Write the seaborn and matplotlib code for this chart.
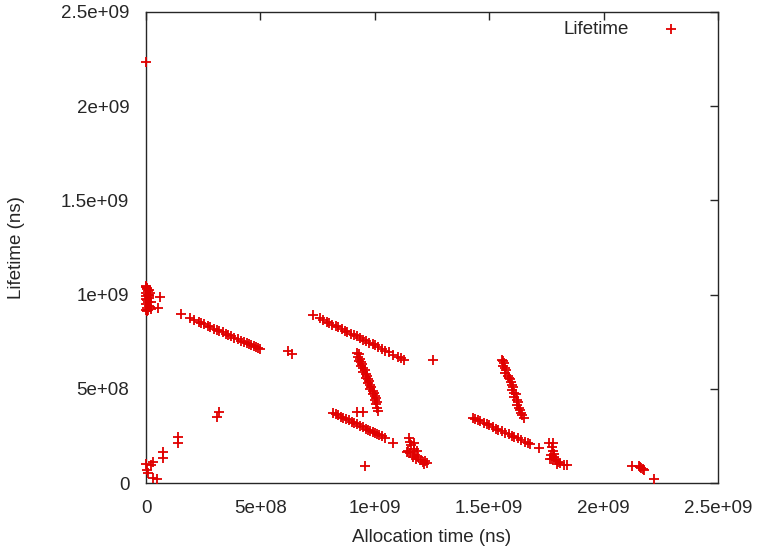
import numpy as np
import pandas as pd
import seaborn as sns
import matplotlib.pyplot as plt
from matplotlib.ticker import FuncFormatter, MultipleLocator

# values, in units of 1e8 ns
UNIT = 1e8

alloc_near_zero = [0.0, 0.05, 0.1, 0.02, 0.08, 0.0, 0.12, 0.05, 0.1, 0.0, 0.15, 0.05, 0.1, 0.2, 0.03, 0.18, 0.2,
                   0.0, 0.61, 0.52, 0.0, 0.15, 0.0, 0.12, 0.18, 0.05, 0.15, 0.0]
life_near_zero = [10.4, 10.3, 10.2, 10.1, 10.0, 9.9, 9.8, 9.7, 9.6, 9.5, 9.4, 9.3, 9.2, 9.25, 10.35, 10.1, 9.6,
                  22.35, 9.87, 9.29, 10.45, 10.25, 9.75, 9.95, 9.35, 9.15, 10.0, 9.2]

alloc_low_left = [0.0, 0.3, 0.2, 0.05, 0.08, 0.74, 0.76, 0.3, 0.46, 1.4, 1.4, 3.2, 3.1]
life_low_left = [1.0, 1.1, 0.95, 0.7, 0.53, 1.65, 1.33, 0.27, 0.23, 2.45, 2.1, 3.77, 3.5]

alloc_first = [1.53, 1.9, 2.1, 2.3, 2.4, 2.55, 2.7, 2.8, 2.95, 3.1, 3.2, 3.35, 3.5, 3.6, 3.7, 3.85, 4.0,
               4.15, 4.3, 4.4, 4.5, 4.6, 4.7, 4.8, 4.9, 5.0, 6.2, 6.4]
life_first = [8.97, 8.77, 8.66, 8.55, 8.50, 8.42, 8.34, 8.28, 8.20, 8.12, 8.07, 7.99, 7.91, 7.85, 7.80, 7.72,
              7.64, 7.56, 7.47, 7.42, 7.37, 7.31, 7.26, 7.20, 7.15, 7.10, 7.0, 6.85]

alloc_second = [7.3, 7.6, 7.75, 7.9, 8.0, 8.15, 8.3, 8.4, 8.55, 8.7, 8.8, 8.95, 9.1, 9.2, 9.35, 9.5, 9.6,
                9.75, 9.9, 10.0, 10.15, 10.3, 10.45, 10.6, 10.8, 11.0, 11.15, 11.28, 12.54]
life_second = [8.92, 8.74, 8.65, 8.56, 8.50, 8.41, 8.32, 8.26, 8.17, 8.08, 8.02, 7.93, 7.84, 7.78, 7.69, 7.60,
               7.54, 7.45, 7.36, 7.30, 7.21, 7.12, 7.03, 6.94, 6.82, 6.70, 6.61, 6.53, 6.53]

alloc_steep_mid = [9.2, 9.3, 9.25, 9.35, 9.3, 9.4, 9.45, 9.4, 9.5, 9.55, 9.5, 9.6, 9.65, 9.6, 9.7, 9.75, 9.7,
                   9.8, 9.85, 9.8, 9.9, 9.95, 9.9, 10.0, 10.05, 10.0, 10.1, 10.05, 10.1, 10.12, 9.22, 9.48, 9.57]
life_steep_mid = [6.9, 6.85, 6.7, 6.6, 6.5, 6.4, 6.3, 6.2, 6.1, 6.0, 5.9, 5.8, 5.7, 5.6, 5.5, 5.4, 5.3,
                  5.2, 5.1, 5.0, 4.9, 4.8, 4.7, 4.6, 4.5, 4.4, 4.3, 4.2, 4.0, 3.8, 3.77, 3.77, 0.9]

alloc_low_mid = [8.17, 8.3, 8.4, 8.5, 8.6, 8.75, 8.85, 9.0, 9.1, 9.2, 9.35, 9.5, 9.6, 9.7, 9.8, 9.9, 10.0,
                 10.1, 10.2, 10.3, 10.45, 10.8]
life_low_mid = [3.72, 3.64, 3.59, 3.53, 3.47, 3.38, 3.33, 3.24, 3.18, 3.13, 3.04, 2.95, 2.89, 2.84, 2.78, 2.72,
                2.66, 2.60, 2.54, 2.48, 2.39, 2.12]

alloc_clump_mid = [11.5, 11.55, 11.6, 11.45, 11.55, 11.7, 11.75, 11.65, 11.8, 11.9, 12.0, 12.1, 12.2, 12.3,
                   12.15, 11.4, 11.85, 11.7]
life_clump_mid = [2.4, 2.2, 2.0, 1.7, 1.6, 1.8, 1.5, 1.4, 1.3, 1.4, 1.2, 1.1, 1.15, 1.05, 1.0, 1.65, 1.7, 2.1]

alloc_steep_right = [15.55, 15.6, 15.65, 15.6, 15.7, 15.75, 15.7, 15.8, 15.85, 15.9, 15.95, 16.0, 16.05, 16.0,
                     16.1, 16.15, 16.1, 16.2, 16.25, 16.2, 16.3, 16.35, 16.4, 16.45, 16.5]
life_steep_right = [6.55, 6.45, 6.35, 6.2, 6.1, 6.0, 5.85, 5.7, 5.6, 5.5, 5.35, 5.2, 5.1, 4.95, 4.8, 4.7,
                    4.55, 4.4, 4.3, 4.15, 4.0, 3.85, 3.7, 3.6, 3.45]

alloc_low_right = [14.3, 14.4, 14.5, 14.6, 14.75, 14.9, 15.0, 15.15, 15.3, 15.4, 15.55, 15.7, 15.85, 16.0,
                   16.1, 16.25, 16.4, 16.55, 16.7, 16.8, 17.18]
life_low_right = [3.45, 3.39, 3.33, 3.28, 3.20, 3.11, 3.06, 2.98, 2.89, 2.84, 2.76, 2.67, 2.59, 2.51, 2.45,
                  2.37, 2.29, 2.20, 2.12, 2.06, 1.86]

alloc_clump_right = [17.6, 17.8, 17.75, 17.8, 17.7, 17.85, 17.75, 17.9, 18.0, 17.95, 18.1, 18.25, 18.4, 17.65,
                     17.85, 21.25, 21.55, 21.6, 21.65, 21.7, 21.75, 22.2]
life_clump_right = [2.1, 2.1, 1.9, 1.7, 1.5, 1.4, 1.3, 1.2, 1.1, 1.0, 1.05, 0.95, 0.95, 1.25, 1.55,
                    0.9, 0.88, 0.85, 0.8, 0.75, 0.7, 0.22]

alloc = (alloc_near_zero + alloc_low_left + alloc_first + alloc_second + alloc_steep_mid + alloc_low_mid
         + alloc_clump_mid + alloc_steep_right + alloc_low_right + alloc_clump_right)
life = (life_near_zero + life_low_left + life_first + life_second + life_steep_mid + life_low_mid
        + life_clump_mid + life_steep_right + life_low_right + life_clump_right)

df = pd.DataFrame({'alloc': np.array(alloc) * UNIT, 'life': np.array(life) * UNIT})

sns.set_theme(style="white")
plt.rcParams['font.family'] = ['Liberation Sans', 'DejaVu Sans']
FS = 13.5
INK = '#262626'

fig = plt.figure(figsize=(7.59, 5.55), dpi=100)
ax = fig.add_axes([0.1924, 0.1297, 0.946 - 0.1924, 0.9784 - 0.1297])

sns.scatterplot(data=df, x='alloc', y='life', marker='+', color='#e00000', s=45, linewidth=1.3,
                label='Lifetime', ax=ax, clip_on=False, zorder=3)

ax.set_xlim(0, 2.5e9)
ax.set_ylim(0, 2.5e9)
ax.xaxis.set_major_locator(MultipleLocator(5e8))
ax.yaxis.set_major_locator(MultipleLocator(5e8))
fmt = FuncFormatter(lambda v, pos: '%g' % v)
ax.xaxis.set_major_formatter(fmt)
ax.yaxis.set_major_formatter(fmt)
ax.tick_params(direction='in', length=6, width=1, top=True, right=True, labelsize=FS, colors=INK)
ax.tick_params(axis='x', pad=12)
ax.tick_params(axis='y', pad=12)
for s in ax.spines.values():
    s.set_color(INK)
    s.set_linewidth(1)

ax.set_xlabel('Allocation time (ns)', fontsize=FS, color=INK)
ax.set_ylabel('Lifetime (ns)', fontsize=FS, color=INK)
ax.xaxis.set_label_coords(0.5, -0.097)
ax.yaxis.set_label_coords(-0.212, 0.5)

leg = ax.legend(loc='upper right', bbox_to_anchor=(0.951, 0.981), frameon=False, markerfirst=False,
                fontsize=FS, handletextpad=1.25, handlelength=2, borderaxespad=0, borderpad=0)
for t in leg.get_texts():
    t.set_color(INK)

fig.savefig('out.png', dpi=100)
